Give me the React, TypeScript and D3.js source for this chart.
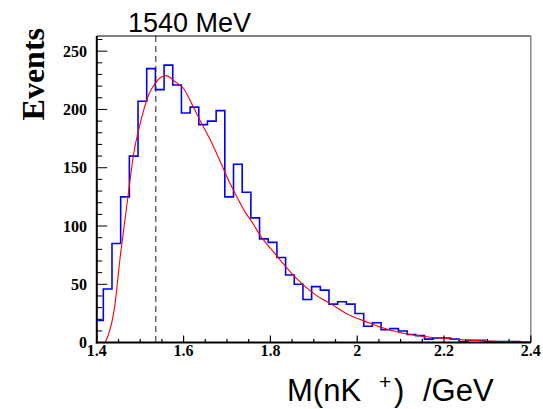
import React from "react";
import * as d3 from "d3";

// Histogram: bins of width 0.02 GeV, lower edges starting at 1.395 GeV
const binStart = 1.395;
const binWidth = 0.02;
const counts = [
  19, 46, 85, 125, 160, 207, 235, 217, 238, 221,
  197, 202, 187, 190, 199, 125, 153, 129, 107, 89,
  86, 73, 58, 50, 37, 48, 45, 33, 35, 33,
  25, 14, 17, 11, 12, 10, 7, 6, 3, 4,
  4, 3, 1, 2, 2, 1, 1, 1, 1, 0, 0,
];

// Fit curve
const fitMass = [
  1.397, 1.412, 1.425, 1.44, 1.455, 1.47, 1.485, 1.5, 1.52, 1.54, 1.56, 1.58,
  1.6, 1.62, 1.64, 1.66, 1.68, 1.7, 1.72, 1.74, 1.76, 1.78, 1.8, 1.82, 1.86,
  1.9, 1.94, 1.98, 2.02, 2.06, 2.1, 2.15, 2.2, 2.25, 2.3, 2.35, 2.4,
];
const fitValue = [
  0, -2, 5, 28, 77, 120, 162, 188, 213, 225, 229, 224,
  218, 204, 189, 175, 159, 142, 127, 113, 102, 90, 81, 72, 55,
  42, 33, 24, 18, 12.5, 8.5, 5.5, 3.5, 2.2, 1.3, 0.7, 0.3,
];

const markerMass = 1.536;
const markerLabel = "1540 MeV";
const xTickLabels = ["1.4", "1.6", "1.8", "2", "2.2", "2.4"];
const xTickValues = [1.4, 1.6, 1.8, 2.0, 2.2, 2.4];
const yTickValues = [0, 50, 100, 150, 200, 250];

export default function App() {
  const W = 543, H = 409;
  const x = d3.scaleLinear().domain([1.4, 2.4]).range([96.8, 530.8]);
  const y = d3.scaleLinear().domain([0, 263]).range([342.6, 36]);
  const x0 = x(1.4), x1 = x(2.4), yb = y(0), yt = y(263);

  // step path
  let d = `M${x(binStart)},${yb}`;
  counts.forEach((c, i) => {
    const a = binStart + i * binWidth;
    const b = a + binWidth;
    d += `L${x(a)},${y(c)}L${x(b)},${y(c)}`;
  });
  d += `L${x(binStart + counts.length * binWidth)},${yb}`;

  const fitLine = d3
    .line<number>()
    .x((_, i) => x(fitMass[i]))
    .y((v) => y(v))
    .curve(d3.curveMonotoneX)(fitValue) as string;

  const yMinor = d3.range(0, 261, 10);
  const xMinor = d3.range(0, 21).map((k) => 1.4 + k * 0.05);
  const serif = "'Liberation Serif', 'DejaVu Serif', serif";
  const sans = "'Liberation Sans', Arial, sans-serif";

  return (
    <svg width={W} height={H} style={{ position: "absolute", left: 0, top: 0, background: "#fff" }}>
      <defs>
        <clipPath id="frame">
          <rect x={x0} y={yt} width={x1 - x0} height={yb - yt} />
        </clipPath>
      </defs>
      <rect x={0} y={0} width={W} height={H} fill="#fff" />
      <g clipPath="url(#frame)">
        <path d={d} fill="none" stroke="#0000ff" strokeWidth={1.6} />
        <path d={fitLine} fill="none" stroke="#ff0000" strokeWidth={1.1} />
      </g>
      <line x1={x(markerMass)} x2={x(markerMass)} y1={yt} y2={yb} stroke="#222" strokeWidth={1} strokeDasharray="6,4" />
      {/* frame */}
      <line x1={x0} x2={x1} y1={yt} y2={yt} stroke="#000" strokeWidth={1} />
      <line x1={x1} x2={x1} y1={yt} y2={yb} stroke="#888" strokeWidth={1.5} />
      <line x1={x0} x2={x0} y1={yt} y2={yb + 1} stroke="#000" strokeWidth={2} />
      <line x1={x0 - 1} x2={x1} y1={yb} y2={yb} stroke="#000" strokeWidth={2} />
      {/* y ticks */}
      {yMinor.map((v) => (
        <line key={"ym" + v} x1={x0} x2={x0 + (v % 50 === 0 ? 10.5 : 5.5)} y1={y(v)} y2={y(v)} stroke="#000" strokeWidth={1} />
      ))}
      {/* x ticks */}
      {xMinor.map((v, i) => (
        <line key={"xm" + i} x1={x(v)} x2={x(v)} y1={yb} y2={yb - (i % 4 === 0 ? 7 : 3.5)} stroke="#000" strokeWidth={1.2} />
      ))}
      {yTickValues.map((v) => (
        <text key={"yl" + v} x={87} y={y(v)} dy="0.35em" textAnchor="end" fontFamily={serif} fontWeight="bold" fontSize={16}>
          {v}
        </text>
      ))}
      {xTickValues.map((v, i) => (
        <text key={"xl" + v} x={x(v)} y={356} textAnchor="middle" fontFamily={serif} fontWeight="bold" fontSize={16}>
          {xTickLabels[i]}
        </text>
      ))}
      <text transform="translate(44,28) rotate(-90)" textAnchor="end" fontFamily={serif} fontWeight="bold" fontSize={32}>
        Events
      </text>
      <text x={128} y={32} fontFamily={sans} fontSize={27}>
        {markerLabel}
      </text>
      <g fontFamily={sans} fontSize={31}>
        <text x={287} y={401}>M(nK</text>
        <text x={379} y={389} fontSize={21}>+</text>
        <text x={394} y={401}>)</text>
        <text x={423} y={401}>/GeV</text>
      </g>
    </svg>
  );
}
